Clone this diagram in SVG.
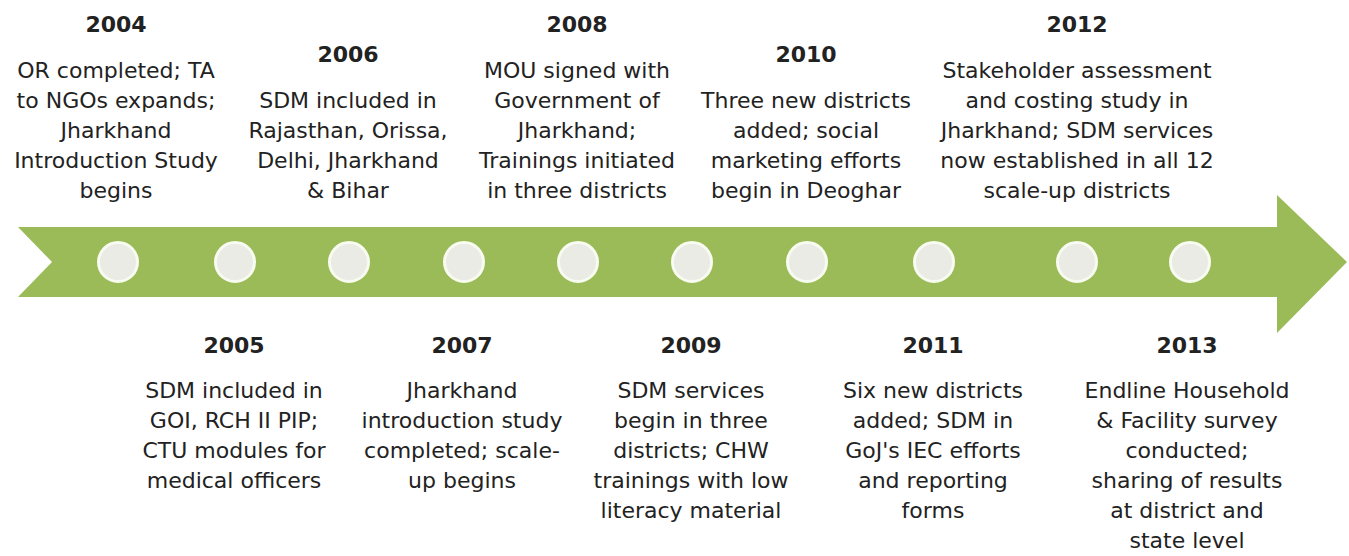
<svg xmlns="http://www.w3.org/2000/svg" width="1349" height="556" viewBox="0 0 1349 556">
<style>
  text { font-family: "DejaVu Sans", "Liberation Sans", sans-serif; fill: #222; text-anchor: middle; }
  .yr { font-size: 22px; font-weight: bold; }
  .tx { font-size: 22px; }
  .dot { fill: #e9ebe4; stroke: #f8fbef; stroke-width: 3; }
</style>
<rect width="1349" height="556" fill="#ffffff"/>
<g id="connectors">
  <polygon points="18,227 1277,227 1277,195 1347,262 1277,333 1277,297 18,297 52,262" fill="#9bbb59"/>
</g>
<g id="dots">
  <circle class="dot" cx="118" cy="262" r="19.5"/>
  <circle class="dot" cx="235" cy="262" r="19.5"/>
  <circle class="dot" cx="349" cy="262" r="19.5"/>
  <circle class="dot" cx="464" cy="262" r="19.5"/>
  <circle class="dot" cx="578" cy="262" r="19.5"/>
  <circle class="dot" cx="692" cy="262" r="19.5"/>
  <circle class="dot" cx="807" cy="262" r="19.5"/>
  <circle class="dot" cx="934" cy="262" r="19.5"/>
  <circle class="dot" cx="1077" cy="262" r="19.5"/>
  <circle class="dot" cx="1190" cy="262" r="19.5"/>
</g>
<g id="n2004">
  <text class="yr" x="116" y="32">2004</text>
  <text class="tx" x="116" y="78">OR completed; TA</text>
  <text class="tx" x="116" y="108">to NGOs expands;</text>
  <text class="tx" x="116" y="138">Jharkhand</text>
  <text class="tx" x="116" y="168">Introduction Study</text>
  <text class="tx" x="116" y="198">begins</text>
</g>
<g id="n2006">
  <text class="yr" x="348" y="62">2006</text>
  <text class="tx" x="348" y="108">SDM included in</text>
  <text class="tx" x="348" y="138">Rajasthan, Orissa,</text>
  <text class="tx" x="348" y="168">Delhi, Jharkhand</text>
  <text class="tx" x="348" y="198">&amp; Bihar</text>
</g>
<g id="n2008">
  <text class="yr" x="577" y="32">2008</text>
  <text class="tx" x="577" y="78">MOU signed with</text>
  <text class="tx" x="577" y="108">Government of</text>
  <text class="tx" x="577" y="138">Jharkhand;</text>
  <text class="tx" x="577" y="168">Trainings initiated</text>
  <text class="tx" x="577" y="198">in three districts</text>
</g>
<g id="n2010">
  <text class="yr" x="806" y="62">2010</text>
  <text class="tx" x="806" y="108">Three new districts</text>
  <text class="tx" x="806" y="138">added; social</text>
  <text class="tx" x="806" y="168">marketing efforts</text>
  <text class="tx" x="806" y="198">begin in Deoghar</text>
</g>
<g id="n2012">
  <text class="yr" x="1077" y="32">2012</text>
  <text class="tx" x="1077" y="78">Stakeholder assessment</text>
  <text class="tx" x="1077" y="108">and costing study in</text>
  <text class="tx" x="1077" y="138">Jharkhand;  SDM services</text>
  <text class="tx" x="1077" y="168">now established in all 12</text>
  <text class="tx" x="1077" y="198">scale-up districts</text>
</g>
<g id="n2005">
  <text class="yr" x="234" y="353">2005</text>
  <text class="tx" x="234" y="398">SDM included in</text>
  <text class="tx" x="234" y="428">GOI, RCH II PIP;</text>
  <text class="tx" x="234" y="458">CTU modules for</text>
  <text class="tx" x="234" y="488">medical officers</text>
</g>
<g id="n2007">
  <text class="yr" x="462" y="353">2007</text>
  <text class="tx" x="462" y="398">Jharkhand</text>
  <text class="tx" x="462" y="428">introduction study</text>
  <text class="tx" x="462" y="458">completed; scale-</text>
  <text class="tx" x="462" y="488">up begins</text>
</g>
<g id="n2009">
  <text class="yr" x="691" y="353">2009</text>
  <text class="tx" x="691" y="398">SDM services</text>
  <text class="tx" x="691" y="428">begin in three</text>
  <text class="tx" x="691" y="458">districts; CHW</text>
  <text class="tx" x="691" y="488">trainings with low</text>
  <text class="tx" x="691" y="518">literacy material</text>
</g>
<g id="n2011">
  <text class="yr" x="933" y="353">2011</text>
  <text class="tx" x="933" y="398">Six new districts</text>
  <text class="tx" x="933" y="428">added; SDM in</text>
  <text class="tx" x="933" y="458">GoJ's IEC efforts</text>
  <text class="tx" x="933" y="488">and reporting</text>
  <text class="tx" x="933" y="518">forms</text>
</g>
<g id="n2013">
  <text class="yr" x="1187" y="353">2013</text>
  <text class="tx" x="1187" y="398">Endline Household</text>
  <text class="tx" x="1187" y="428">&amp; Facility survey</text>
  <text class="tx" x="1187" y="458">conducted;</text>
  <text class="tx" x="1187" y="488">sharing of results</text>
  <text class="tx" x="1187" y="518">at district and</text>
  <text class="tx" x="1187" y="548">state level</text>
</g>
</svg>
